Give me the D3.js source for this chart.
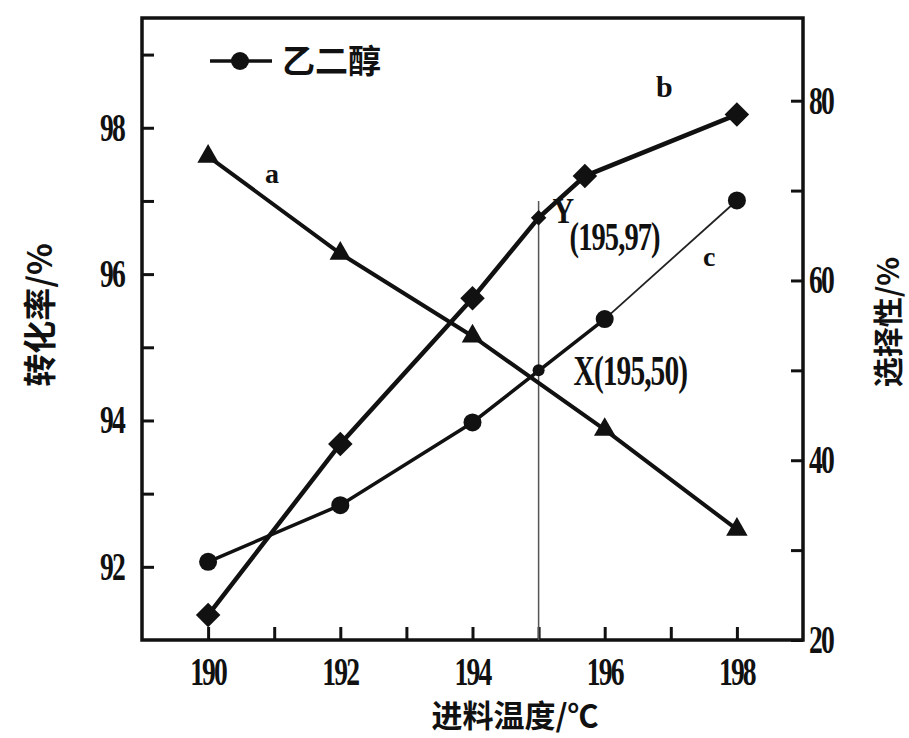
<!DOCTYPE html>
<html>
<head>
<meta charset="utf-8">
<script src="https://cdn.jsdelivr.net/npm/d3@7"></script>
<style>
  body { margin: 0; background: #fff; }
  .num { font-family: "Liberation Serif", serif; font-weight: bold; fill: #111; }
  .cjk { font-family: "Noto Sans CJK SC", sans-serif; font-weight: bold; fill: #111; }
</style>
</head>
<body>
<div id="chart"></div>
<script>
// temperature (℃) and values
const tempA = [190, 192, 194, 196, 198];
const selA  = [73.8, 63.0, 53.8, 43.4, 32.3];          // curve a, right axis

const tempB = [190, 192, 194, 195, 195.7, 198];
const convB = [91.34, 93.68, 95.67, 96.77, 97.34, 98.18]; // curve b, left axis

const tempC = [190, 192, 194, 196, 198];
const selC  = [28.7, 35.0, 44.2, 55.7, 68.9];          // curve c (乙二醇), right axis

const xTicks = [190, 191, 192, 193, 194, 195, 196, 197, 198];
const xLabels = [190, 192, 194, 196, 198];
const yLTicks = [92, 93, 94, 95, 96, 97, 98, 99];
const yLLabels = [92, 94, 96, 98];
const yRTicks = [20, 30, 40, 50, 60, 70, 80];
const yRLabels = [20, 40, 60, 80];

const ptX = { x: 195, y: 50, label: "X(195,50)" };
const ptY = { x: 195, y: 97, label: "(195,97)" };

const width = 909, height = 738;
const pLeft = 142, pRight = 803, pTop = 18, pBottom = 640;

const svg = d3.select("#chart").append("svg")
    .attr("width", width)
    .attr("height", height);

const x = d3.scaleLinear().domain([189, 199]).range([pLeft, pRight]);
const yL = d3.scaleLinear().domain([91, 99.5]).range([pBottom, pTop]);
const yR = d3.scaleLinear().domain([20, 89.2]).range([pBottom, pTop]);

// axes (ticks pointing inward)
const gx = svg.append("g").attr("transform", `translate(0,${pBottom})`)
    .call(d3.axisTop(x).tickValues(xTicks).tickSize(13).tickFormat(""));
const gl = svg.append("g").attr("transform", `translate(${pLeft},0)`)
    .call(d3.axisRight(yL).tickValues(yLTicks).tickSize(12).tickFormat(""));
const gr = svg.append("g").attr("transform", `translate(${pRight},0)`)
    .call(d3.axisLeft(yR).tickValues(yRTicks).tickSize(12).tickFormat(""));
[gx, gl, gr].forEach(g => {
    g.select(".domain").remove();
    g.selectAll("line").attr("stroke", "#111").attr("stroke-width", 3);
});

// frame
svg.append("rect")
    .attr("x", pLeft).attr("y", pTop)
    .attr("width", pRight - pLeft).attr("height", pBottom - pTop)
    .attr("fill", "none").attr("stroke", "#111").attr("stroke-width", 3.5);

// scanned figure uses tall, narrow digits
const tall = "scale(0.92,1.3)";

svg.selectAll(".xl").data(xLabels).enter().append("text")
    .attr("class", "num")
    .attr("transform", d => `translate(${x(d)},${pBottom + 45}) ${tall}`)
    .attr("text-anchor", "middle").attr("font-size", 30)
    .attr("letter-spacing", -2)
    .text(d => d);

svg.selectAll(".yll").data(yLLabels).enter().append("text")
    .attr("class", "num")
    .attr("transform", d => `translate(${pLeft - 18},${yL(d) + 13}) ${tall}`)
    .attr("text-anchor", "end").attr("font-size", 30)
    .attr("letter-spacing", -2)
    .text(d => d);

svg.selectAll(".yrl").data(yRLabels).enter().append("text")
    .attr("class", "num")
    .attr("transform", d => `translate(${pRight + 6},${yR(d) + 13}) ${tall}`)
    .attr("font-size", 30)
    .attr("letter-spacing", -2)
    .text(d => d);

// axis titles
svg.append("text").attr("class", "cjk")
    .attr("transform", `translate(52,${(pTop + pBottom) / 2 - 14}) rotate(-90)`)
    .attr("text-anchor", "middle").attr("font-size", 33)
    .text("转化率/%");
svg.append("text").attr("class", "cjk")
    .attr("transform", `translate(899,${(pTop + pBottom) / 2 - 7}) rotate(-90)`)
    .attr("text-anchor", "middle").attr("font-size", 30)
    .text("选择性/%");
svg.append("text").attr("class", "cjk")
    .attr("x", 515).attr("y", 727)
    .attr("text-anchor", "middle").attr("font-size", 31)
    .text("进料温度/℃");

// reference line at 195 ℃
svg.append("line")
    .attr("x1", x(ptY.x)).attr("x2", x(ptY.x))
    .attr("y1", yL(ptY.y)).attr("y2", pBottom)
    .attr("stroke", "#555").attr("stroke-width", 1.5);

// curves
const ptsA = tempA.map((t, i) => [x(t), yR(selA[i])]);
const ptsB = tempB.map((t, i) => [x(t), yL(convB[i])]);
const ptsC = tempC.map((t, i) => [x(t), yR(selC[i])]);
const line = d3.line();

svg.append("path").attr("d", line(ptsA))
    .attr("fill", "none").attr("stroke", "#111").attr("stroke-width", 4);
svg.append("path").attr("d", line(ptsB))
    .attr("fill", "none").attr("stroke", "#111").attr("stroke-width", 4.5);
svg.append("path").attr("d", line(ptsC.slice(0, 4)))
    .attr("fill", "none").attr("stroke", "#111").attr("stroke-width", 3.5);
svg.append("path").attr("d", line(ptsC.slice(3)))
    .attr("fill", "none").attr("stroke", "#222").attr("stroke-width", 1.8);

// markers
svg.selectAll(".ma").data(ptsA).enter().append("path")
    .attr("transform", d => `translate(${d[0]},${d[1]})`)
    .attr("d", d3.symbol(d3.symbolTriangle, 200))
    .attr("fill", "#111");
svg.selectAll(".mb").data(ptsB).enter().append("path")
    .attr("transform", d => `translate(${d[0]},${d[1]}) rotate(45)`)
    .attr("d", (d, i) => d3.symbol(d3.symbolSquare, tempB[i] === 195 ? 120 : 300)())
    .attr("fill", "#111");
svg.selectAll(".mc").data(ptsC).enter().append("circle")
    .attr("cx", d => d[0]).attr("cy", d => d[1]).attr("r", 9)
    .attr("fill", "#111");
svg.append("circle")
    .attr("cx", x(ptX.x)).attr("cy", yR(ptX.y)).attr("r", 6)
    .attr("fill", "#111");

// legend
svg.append("line")
    .attr("x1", 210).attr("x2", 272).attr("y1", 61).attr("y2", 61)
    .attr("stroke", "#111").attr("stroke-width", 3.5);
svg.append("circle").attr("cx", 240).attr("cy", 61).attr("r", 9).attr("fill", "#111");
svg.append("text").attr("class", "cjk")
    .attr("x", 282).attr("y", 73).attr("font-size", 33)
    .text("乙二醇");

// curve labels and annotations
svg.append("text").attr("class", "num").attr("font-size", 28)
    .attr("x", 265).attr("y", 183).text("a");
svg.append("text").attr("class", "num").attr("font-size", 30)
    .attr("x", 656).attr("y", 97).text("b");
svg.append("text").attr("class", "num").attr("font-size", 28)
    .attr("x", 703).attr("y", 266).text("c");
svg.append("text").attr("class", "num")
    .attr("transform", `translate(${x(ptY.x) + 14},${yL(ptY.y) + 22}) scale(1,1.2)`)
    .attr("font-size", 30).text("Y");
svg.append("text").attr("class", "num")
    .attr("transform", `translate(${x(ptY.x) + 31},${yL(ptY.y) + 49}) ${tall}`)
    .attr("font-size", 31).attr("letter-spacing", -1)
    .text(ptY.label);
svg.append("text").attr("class", "num")
    .attr("transform", `translate(${x(ptX.x) + 35},${yR(ptX.y) + 15}) ${tall}`)
    .attr("font-size", 32).attr("letter-spacing", -1)
    .text(ptX.label);
</script>
</body>
</html>
